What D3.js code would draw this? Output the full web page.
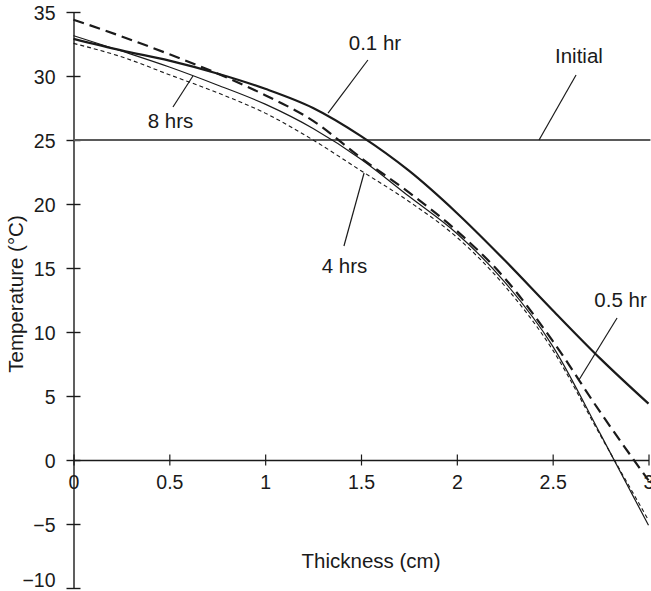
<!DOCTYPE html>
<html>
<head>
<meta charset="utf-8">
<script src="https://cdn.jsdelivr.net/npm/d3@7"></script>
<style>
  html, body { margin: 0; padding: 0; background: #fff; }
  svg { display: block; font-family: "Liberation Sans", Arial, sans-serif; }
</style>
</head>
<body>
<svg id="chart" width="651" height="591"></svg>
<script>
// ---- data ----
const thickness = [0, 0.25, 0.5, 0.75, 1.0, 1.25, 1.5, 1.75, 2.0, 2.25, 2.5, 2.75, 3.0];
const temp01hr = [32.9, 32.0, 31.2, 30.2, 29.0, 27.5, 25.3, 22.6, 19.3, 15.6, 11.7, 7.9, 4.4];
const temp05hr = [34.4, 33.1, 31.7, 30.2, 28.5, 26.5, 23.6, 20.9, 17.9, 14.2, 9.3, 3.7, -1.6];
const temp4hrs = [32.55, 31.5, 30.1, 28.7, 27.1, 25.0, 22.6, 20.2, 17.4, 13.6, 8.6, 1.9, -4.7];
const temp8hrs = [33.15, 31.95, 30.7, 29.3, 27.8, 25.9, 23.5, 20.6, 17.7, 13.9, 8.9, 2.0, -5.1];
const initialX = [0, 3.01];
const initialT = [25, 25];

const xTicks = [0, 0.5, 1, 1.5, 2, 2.5, 3];
const xTickLabels = ["0", "0.5", "1", "1.5", "2", "2.5", "3"];
const yTicks = [-10, -5, 0, 5, 10, 15, 20, 25, 30, 35];

// annotations: label, text anchor (x,T), leader from (x,T) to (x,T)
const annoLabels = ["0.1 hr", "Initial", "8 hrs", "4 hrs", "0.5 hr"];
const annoTextX = [1.573, 2.637, 0.506, 1.414, 2.854];
const annoTextT = [32.03, 31.02, 25.94, 14.61, 11.95];
const annoFromX = [1.536, 2.622, 0.519, 1.411, 2.836];
const annoFromT = [31.25, 30.08, 27.58, 16.72, 11.09];
const annoToX = [1.328, 2.429, 0.623, 1.516, 2.637];
const annoToT = [27.1, 25.0, 30.0, 22.42, 6.25];

// ---- chart ----
const svg = d3.select("#chart");
const x = d3.scaleLinear().domain([0, 3]).range([73.5, 648.5]);
const y = d3.scaleLinear().domain([-10, 35]).range([588, 12]);

const ink = "#1a1a1a";

// y axis
const yAxis = svg.append("g")
  .attr("transform", `translate(${x(0)},0)`)
  .call(d3.axisLeft(y).tickValues(yTicks).tickSizeInner(7).tickSizeOuter(0).tickPadding(11));
yAxis.select(".domain").attr("stroke", ink).attr("stroke-width", 1.4);
yAxis.selectAll(".tick line").attr("x1", 7).attr("stroke", ink).attr("stroke-width", 1.4);
yAxis.selectAll(".tick text")
  .attr("font-size", 19.5).attr("fill", ink)
  .attr("dy", d => d === -10 ? "-0.08em" : "0.38em")
  .attr("font-family", "'Liberation Sans', Arial, sans-serif");

// x axis
const xAxis = svg.append("g")
  .attr("transform", `translate(0,${y(0)})`)
  .call(d3.axisBottom(x).tickValues(xTicks).tickFormat((d, i) => xTickLabels[i])
    .tickSizeInner(5.5).tickSizeOuter(0).tickPadding(10));
xAxis.select(".domain").attr("stroke", ink).attr("stroke-width", 1.4);
xAxis.selectAll(".tick line").attr("y1", -5.5).attr("stroke", ink).attr("stroke-width", 1.2);
xAxis.selectAll(".tick text")
  .attr("font-size", 19.5).attr("fill", ink)
  .attr("font-family", "'Liberation Sans', Arial, sans-serif");

// axis titles
svg.append("text")
  .attr("x", 371).attr("y", 568)
  .attr("text-anchor", "middle").attr("font-size", 20.5).attr("fill", ink)
  .text("Thickness (cm)");
svg.append("text")
  .attr("transform", `translate(22.5,294) rotate(-90)`)
  .attr("text-anchor", "middle").attr("font-size", 20.5).attr("fill", ink)
  .text("Temperature (°C)");

// initial line
const initData = initialX.map((d, i) => [d, initialT[i]]);
svg.append("path")
  .datum(initData)
  .attr("fill", "none").attr("stroke", "#5a5a5a").attr("stroke-width", 1.8)
  .attr("d", d3.line().x(d => x(d[0])).y(d => y(d[1])));

// curves
const line = d3.line().x(d => x(d[0])).y(d => y(d[1])).curve(d3.curveMonotoneX);
const series = [
  { vals: temp4hrs, w: 1.1, dash: "4,3" },
  { vals: temp8hrs, w: 1.2, dash: null },
  { vals: temp05hr, w: 2.2, dash: "11,6" },
  { vals: temp01hr, w: 2.2, dash: null }
];
series.forEach(s => {
  svg.append("path")
    .datum(thickness.map((t, i) => [t, s.vals[i]]))
    .attr("fill", "none").attr("stroke", ink).attr("stroke-width", s.w)
    .attr("stroke-dasharray", s.dash)
    .attr("d", line);
});

// annotations
annoLabels.forEach((lab, i) => {
  svg.append("line")
    .attr("x1", x(annoFromX[i])).attr("y1", y(annoFromT[i]))
    .attr("x2", x(annoToX[i])).attr("y2", y(annoToT[i]))
    .attr("stroke", ink).attr("stroke-width", 1.2);
  svg.append("text")
    .attr("x", x(annoTextX[i])).attr("y", y(annoTextT[i]))
    .attr("text-anchor", "middle").attr("font-size", 20.5).attr("fill", ink)
    .text(lab);
});
</script>
</body>
</html>
